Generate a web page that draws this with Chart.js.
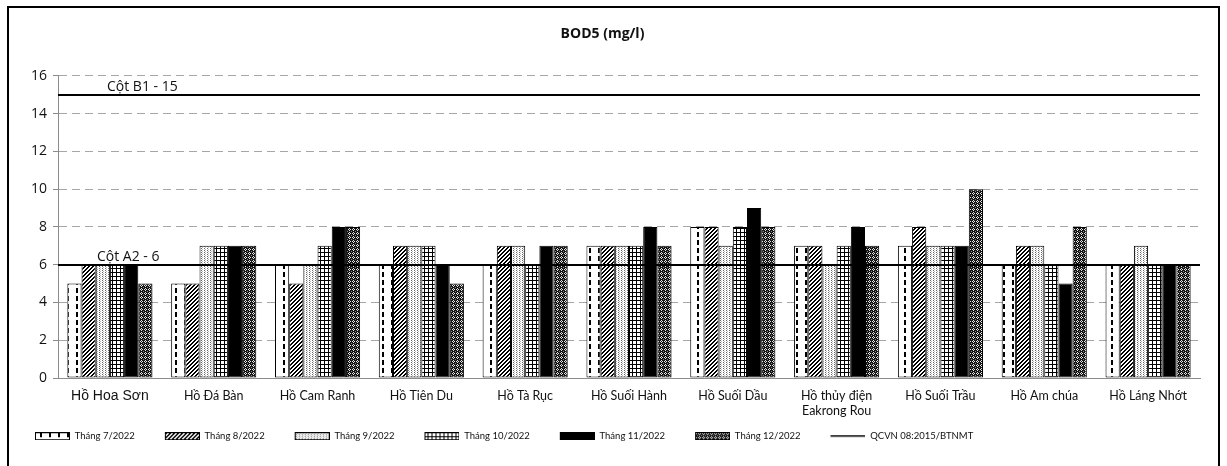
<!DOCTYPE html>
<html>
<head>
<meta charset="utf-8">
<script src="https://cdn.jsdelivr.net/npm/chart.js@4/dist/chart.umd.min.js"></script>
<style>
  html, body { margin: 0; padding: 0; background: #fff; }
  #wrap { width: 1227px; height: 466px; position: relative; }
</style>
</head>
<body>
<div id="wrap"><canvas id="c" width="1227" height="466"></canvas></div>
<script>
// Lakes sampled
const categories = ['Hồ Hoa Sơn', 'Hồ Đá Bàn', 'Hồ Cam Ranh', 'Hồ Tiên Du', 'Hồ Tà Rục', 'Hồ Suối Hành',
  'Hồ Suối Dầu', ['Hồ thủy điện', 'Eakrong Rou'], 'Hồ Suối Trầu', 'Hồ Am chúa', 'Hồ Láng Nhớt'];

// BOD5 (mg/l) by month
const seriesLabels = ['Tháng 7/2022', 'Tháng 8/2022', 'Tháng 9/2022', 'Tháng 10/2022', 'Tháng 11/2022', 'Tháng 12/2022'];
const thang7 = [5, 5, 6, 6, 6, 7, 8, 7, 7, 6, 6];
const thang8 = [6, 5, 5, 7, 7, 7, 8, 7, 8, 7, 6];
const thang9 = [6, 7, 6, 7, 7, 7, 7, 6, 7, 7, 7];
const thang10 = [6, 7, 7, 7, 6, 7, 8, 7, 7, 6, 6];
const thang11 = [6, 7, 8, 6, 7, 8, 9, 8, 7, 5, 6];
const thang12 = [5, 7, 8, 5, 7, 7, 8, 7, 10, 8, 6];

// QCVN 08:2015/BTNMT limits
const standardLabel = 'QCVN 08:2015/BTNMT';
const limitValues = [15, 6];
const limitNames = ['Cột B1 - 15', 'Cột A2 - 6'];

// y axis ticks
const yTicks = [0, 2, 4, 6, 8, 10, 12, 14, 16];

// ---- fill patterns ----
function tile(w, h, draw) {
  const cv = document.createElement('canvas');
  cv.width = w; cv.height = h;
  const g = cv.getContext('2d');
  draw(g, w, h);
  return cv;
}
function px(g, color, pts) {
  g.fillStyle = color;
  pts.forEach(([x, y]) => g.fillRect(x, y, 1, 1));
}
const tiles = [
  // vertical dashes on white
  tile(9, 8, (g) => { g.fillStyle = '#fff'; g.fillRect(0, 0, 9, 8); g.fillStyle = '#000'; g.fillRect(4, 0, 2, 5); }),
  // dark upward diagonal
  tile(4, 4, (g) => {
    g.fillStyle = '#fff'; g.fillRect(0, 0, 4, 4);
    px(g, '#000', [[3, 0], [2, 0], [2, 1], [1, 1], [1, 2], [0, 2], [0, 3], [3, 3]]);
  }),
  // light stipple
  tile(3, 2, (g) => { g.fillStyle = '#fff'; g.fillRect(0, 0, 3, 2); px(g, '#666', [[0, 0]]); px(g, '#bbb', [[1, 1]]); }),
  // small grid
  tile(4, 4, (g) => { g.fillStyle = '#fff'; g.fillRect(0, 0, 4, 4); g.fillStyle = '#000'; g.fillRect(0, 0, 4, 1); g.fillRect(0, 0, 1, 4); }),
  // solid
  tile(2, 2, (g) => { g.fillStyle = '#000'; g.fillRect(0, 0, 2, 2); }),
  // dark diamond weave
  tile(4, 4, (g) => {
    g.fillStyle = '#141414'; g.fillRect(0, 0, 4, 4);
    px(g, '#e6e6e6', [[1, 0], [0, 1], [2, 1], [1, 2]]);
    px(g, '#8a8a8a', [[3, 3]]);
  })
];
const ctx = document.getElementById('c').getContext('2d');
const patterns = tiles.map(t => ctx.createPattern(t, 'repeat'));

// legend swatches: leading gap, then a 35x8 sample
const SW_LEAD = 17, SW_W = 35, SW_H = 8;
const swatches = tiles.map((t) => tile(SW_LEAD + SW_W, SW_H, (g) => {
  g.fillStyle = g.createPattern(t, 'repeat');
  g.fillRect(SW_LEAD, 0, SW_W, SW_H);
  g.strokeStyle = '#000'; g.lineWidth = 1;
  g.strokeRect(SW_LEAD + 0.5, 0.5, SW_W - 1, SW_H - 1);
}));
const lineSwatch = tile(SW_LEAD + SW_W, SW_H, (g) => {
  g.fillStyle = '#000';
  g.fillRect(SW_LEAD, 3, SW_W, 1.5);
});

const seriesValues = [thang7, thang8, thang9, thang10, thang11, thang12];
const barSets = seriesValues.map((vals, i) => ({
  label: seriesLabels[i],
  data: vals,
  backgroundColor: patterns[i],
  borderColor: '#000',
  borderWidth: 1,
  borderSkipped: false
}));

const framePlugin = {
  id: 'frame',
  beforeDraw(chart) {
    const g = chart.ctx;
    g.save();
    g.fillStyle = '#fff';
    g.fillRect(0, 0, chart.width, chart.height);
    g.strokeStyle = '#000';
    g.lineWidth = 2;
    g.strokeRect(8, 7, chart.width - 16, chart.height + 10);
    g.restore();
  }
};

// standard limit lines across the plot, placed with the y scale
const limitPlugin = {
  id: 'limits',
  afterDatasetsDraw(chart) {
    const g = chart.ctx;
    const y = chart.scales.y;
    const x = chart.scales.x;
    g.save();
    g.strokeStyle = '#000';
    g.lineWidth = 2;
    g.font = '14px "Open Sans", sans-serif';
    g.fillStyle = '#111';
    g.textBaseline = 'bottom';
    limitValues.forEach((v, i) => {
      const py = Math.round(y.getPixelForValue(v));
      g.beginPath();
      g.moveTo(x.left, py);
      g.lineTo(x.right, py);
      g.stroke();
      const off = i === 0 ? 49 : 39;
      g.fillText(limitNames[i], x.left + off, py - 1);
    });
    g.restore();
  }
};

new Chart(ctx, {
  type: 'bar',
  data: {
    labels: categories,
    datasets: barSets
  },
  plugins: [framePlugin, limitPlugin],
  options: {
    responsive: false,
    animation: false,
    datasets: { bar: { categoryPercentage: 0.82, barPercentage: 1.0 } },
    layout: { padding: { left: 5, right: 27, top: 26, bottom: 15 } },
    plugins: {
      title: {
        display: true,
        text: 'BOD5 (mg/l)',
        color: '#111',
        font: { family: '"Open Sans", sans-serif', size: 14, weight: 'bold' },
        padding: { top: 0, bottom: 33 }
      },
      tooltip: { enabled: false },
      legend: {
        position: 'bottom',
        align: 'start',
        labels: {
          color: '#111',
          font: { family: 'Lato, sans-serif', size: 9.5 },
          usePointStyle: true,
          pointStyleWidth: SW_LEAD + SW_W,
          boxHeight: SW_H,
          padding: 13,
          generateLabels(chart) {
            const items = Chart.defaults.plugins.legend.labels.generateLabels(chart)
              .sort((a, b) => a.datasetIndex - b.datasetIndex);
            items.forEach(it => { it.pointStyle = swatches[it.datasetIndex]; });
            items.push({
              text: standardLabel,
              pointStyle: lineSwatch,
              fillStyle: '#000',
              strokeStyle: '#000',
              lineWidth: 1,
              hidden: false,
              fontColor: '#111'
            });
            return items;
          }
        }
      }
    },
    scales: {
      x: {
        grid: { display: false, drawTicks: false },
        border: { display: true, color: '#8c8c8c', width: 1 },
        ticks: {
          color: '#111',
          padding: 10,
          maxRotation: 0,
          autoSkip: false,
          font: (c) => c.index === 0
            ? { family: '"Liberation Sans", Arial, sans-serif', size: 14 }
            : { family: 'Lato, sans-serif', size: 12.5 }
        },
        afterFit(s) { s.height = 40.5; }
      },
      y: {
        min: 0,
        max: 16,
        afterBuildTicks(s) { s.ticks = yTicks.map(v => ({ value: v })); },
        grid: {
          color: '#a6a6a6',
          lineWidth: 1,
          tickLength: 5,
          tickColor: '#8c8c8c',
          tickBorderDash: []
        },
        border: { display: true, color: '#8c8c8c', width: 1, dash: [8, 5] },
        ticks: {
          color: '#111',
          padding: 6,
          font: { family: '"Open Sans", sans-serif', size: 14 }
        },
        afterFit(s) { s.width = 53; }
      }
    }
  }
});
</script>
</body>
</html>
